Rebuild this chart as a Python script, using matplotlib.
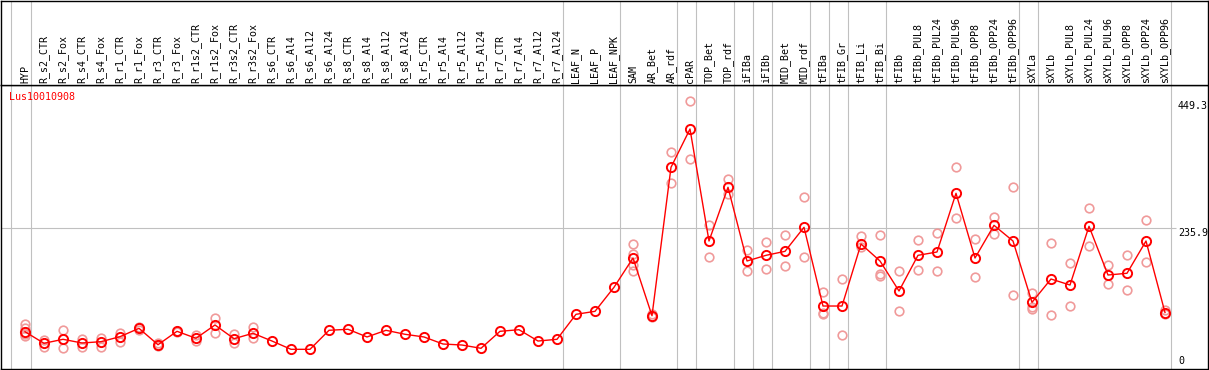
import numpy as np
import matplotlib
matplotlib.use("Agg")
import matplotlib.pyplot as plt

gene = "Lus10010908"

samples = ["HYP",
           "R_s2_CTR", "R_s2_Fox", "R_s4_CTR", "R_s4_Fox", "R_r1_CTR", "R_r1_Fox",
           "R_r3_CTR", "R_r3_Fox", "R_r1s2_CTR", "R_r1s2_Fox", "R_r3s2_CTR", "R_r3s2_Fox",
           "R_s6_CTR", "R_s6_Al4", "R_s6_Al12", "R_s6_Al24",
           "R_s8_CTR", "R_s8_Al4", "R_s8_Al12", "R_s8_Al24",
           "R_r5_CTR", "R_r5_Al4", "R_r5_Al12", "R_r5_Al24",
           "R_r7_CTR", "R_r7_Al4", "R_r7_Al12", "R_r7_Al24",
           "LEAF_N", "LEAF_P", "LEAF_NPK",
           "SAM", "AR_Bet", "AR_rdf", "cPAR", "TOP_Bet", "TOP_rdf",
           "iFIBa", "iFIBb", "MID_Bet", "MID_rdf",
           "tFIBa", "tFIB_Gr", "tFIB_Li", "tFIB_Bi",
           "tFIBb", "tFIBb_PUL8", "tFIBb_PUL24", "tFIBb_PUL96",
           "tFIBb_OPP8", "tFIBb_OPP24", "tFIBb_OPP96",
           "sXYLa", "sXYLb", "sXYLb_PUL8", "sXYLb_PUL24", "sXYLb_PUL96",
           "sXYLb_OPP8", "sXYLb_OPP24", "sXYLb_OPP96"]

means = [62.5,
         43.1, 49.8, 43.6, 45.8, 54.2, 68.2,
         40.7, 63.2, 51.5, 73.8, 50.8, 59.9,
         46.9, 33.0, 33.0, 64.9,
         66.6, 53.7, 64.9, 58.2,
         53.7, 41.9, 40.2, 34.7,
         63.2, 65.9, 46.9, 49.8,
         91.7, 96.7, 137.0,
         186.1, 89.4, 338.2, 402.4, 214.6, 304.7,
         181.1, 190.6, 197.3, 237.6,
         105.6, 105.6, 209.6, 181.1,
         130.8, 190.6, 196.2, 294.6,
         186.1, 240.9, 214.6,
         111.8, 150.9, 140.8, 239.3, 157.6,
         160.5, 214.6, 94.7]

# single replicates (faint circles)
reps = [[75.5, 68.7, 58.7, 55.3],
        [48.6, 37.4], [65.4, 34.7], [49.8, 37.4], [51.5, 37.4], [60.9, 45.8], [70.9, 65.4],
        [43.1, 38.6], [64.2, 62.0], [57.0, 47.5], [85.0, 60.9], [58.7, 44.1], [70.4, 52.8],
        [], [], [], [],
        [], [], [], [],
        [], [], [], [],
        [], [], [], [],
        [], [], [],
        [209.6, 192.3, 174.4, 164.3], [91.4, 87.2], [363.3, 311.4], [449.3, 352.1],
        [241.4, 187.3], [318.1, 292.9],
        [199.0, 164.3], [212.4, 167.7], [224.2, 172.2], [288.4, 187.8],
        [128.6, 94.4, 92.2], [150.9, 57.0], [222.5, 205.1], [224.2, 159.3, 156.4],
        [163.8, 96.7], [215.8, 165.5], [228.0, 163.8], [338.2, 252.7],
        [217.5, 154.3], [254.9, 226.4], [305.2, 123.6],
        [126.9, 104.5, 100.1], [211.3, 90.5], [177.2, 105.6], [269.4, 206.7], [173.9, 142.0],
        [190.6, 132.5], [249.3, 179.4], [98.9, 91.7]]

# last sample of each group (gray separators)
group_ends = ["HYP", "R_r7_Al24", "LEAF_NPK", "AR_rdf", "cPAR", "TOP_rdf", "iFIBa", "iFIBb",
              "MID_rdf", "tFIBa", "tFIB_Gr", "tFIB_Bi", "tFIBb_OPP96", "sXYLa", "sXYLb_OPP96"]

yticks = [449.3, 235.9, 0]

W, H = 1209, 370
fig = plt.figure(figsize=(W / 100, H / 100), dpi=100)
fnt = "DejaVu Sans Mono"
fs = 7.2

x = np.arange(len(samples))
xl = -24 / 19.0
xr = xl + 1207 / 19.0

ax = fig.add_axes([1 / W, 1 / H, 1207 / W, 284 / H])
hd = fig.add_axes([1 / W, 285 / H, 1207 / W, 84.5 / H])

for a in (ax, hd):
    a.set_xlim(xl, xr)
    a.set_xticks([])
    a.set_yticks([])
    for s in a.spines.values():
        s.set_color("black")
        s.set_linewidth(1.0)
    a.axvline(-0.74, color="#c0c0c0", lw=0.8, zorder=0)
    for g in group_ends:
        a.axvline(samples.index(g) + 0.3, color="#c0c0c0", lw=0.8, zorder=0)

ax.set_ylim(0, 476.2)
hd.set_ylim(0, 1)

ax.hlines(yticks[1], xl, 60.6, color="#c0c0c0", lw=0.8, zorder=0)

for i, r in enumerate(reps):
    if r:
        ax.plot([i] * len(r), r, "o", mfc="none", mec="#f09a9a", ms=6.2, mew=1.2, zorder=2)

ax.plot(x, means, "-", color="red", lw=1.0, zorder=3)
ax.plot(x, means, "o", mfc="none", mec="red", ms=6.6, mew=1.4, zorder=4)

for i, s in enumerate(samples):
    hd.text(i, 0.02, s, rotation=90, ha="center", va="bottom",
            family=fnt, fontsize=fs, color="black")

ax.text(0.0066, 0.959, gene, transform=ax.transAxes, color="red",
        family=fnt, fontsize=fs, va="center", ha="left")

tx = (1178 - 25) / 19.0
ax.text(tx, yticks[0], "%.1f" % yticks[0], family=fnt, fontsize=fs, va="top", ha="left")
ax.text(tx, yticks[1], "%.1f" % yticks[1], family=fnt, fontsize=fs, va="top", ha="left")
ax.text(tx, yticks[2] + 5, "0", family=fnt, fontsize=fs, va="bottom", ha="left")

fig.savefig("out.png", dpi=100)
